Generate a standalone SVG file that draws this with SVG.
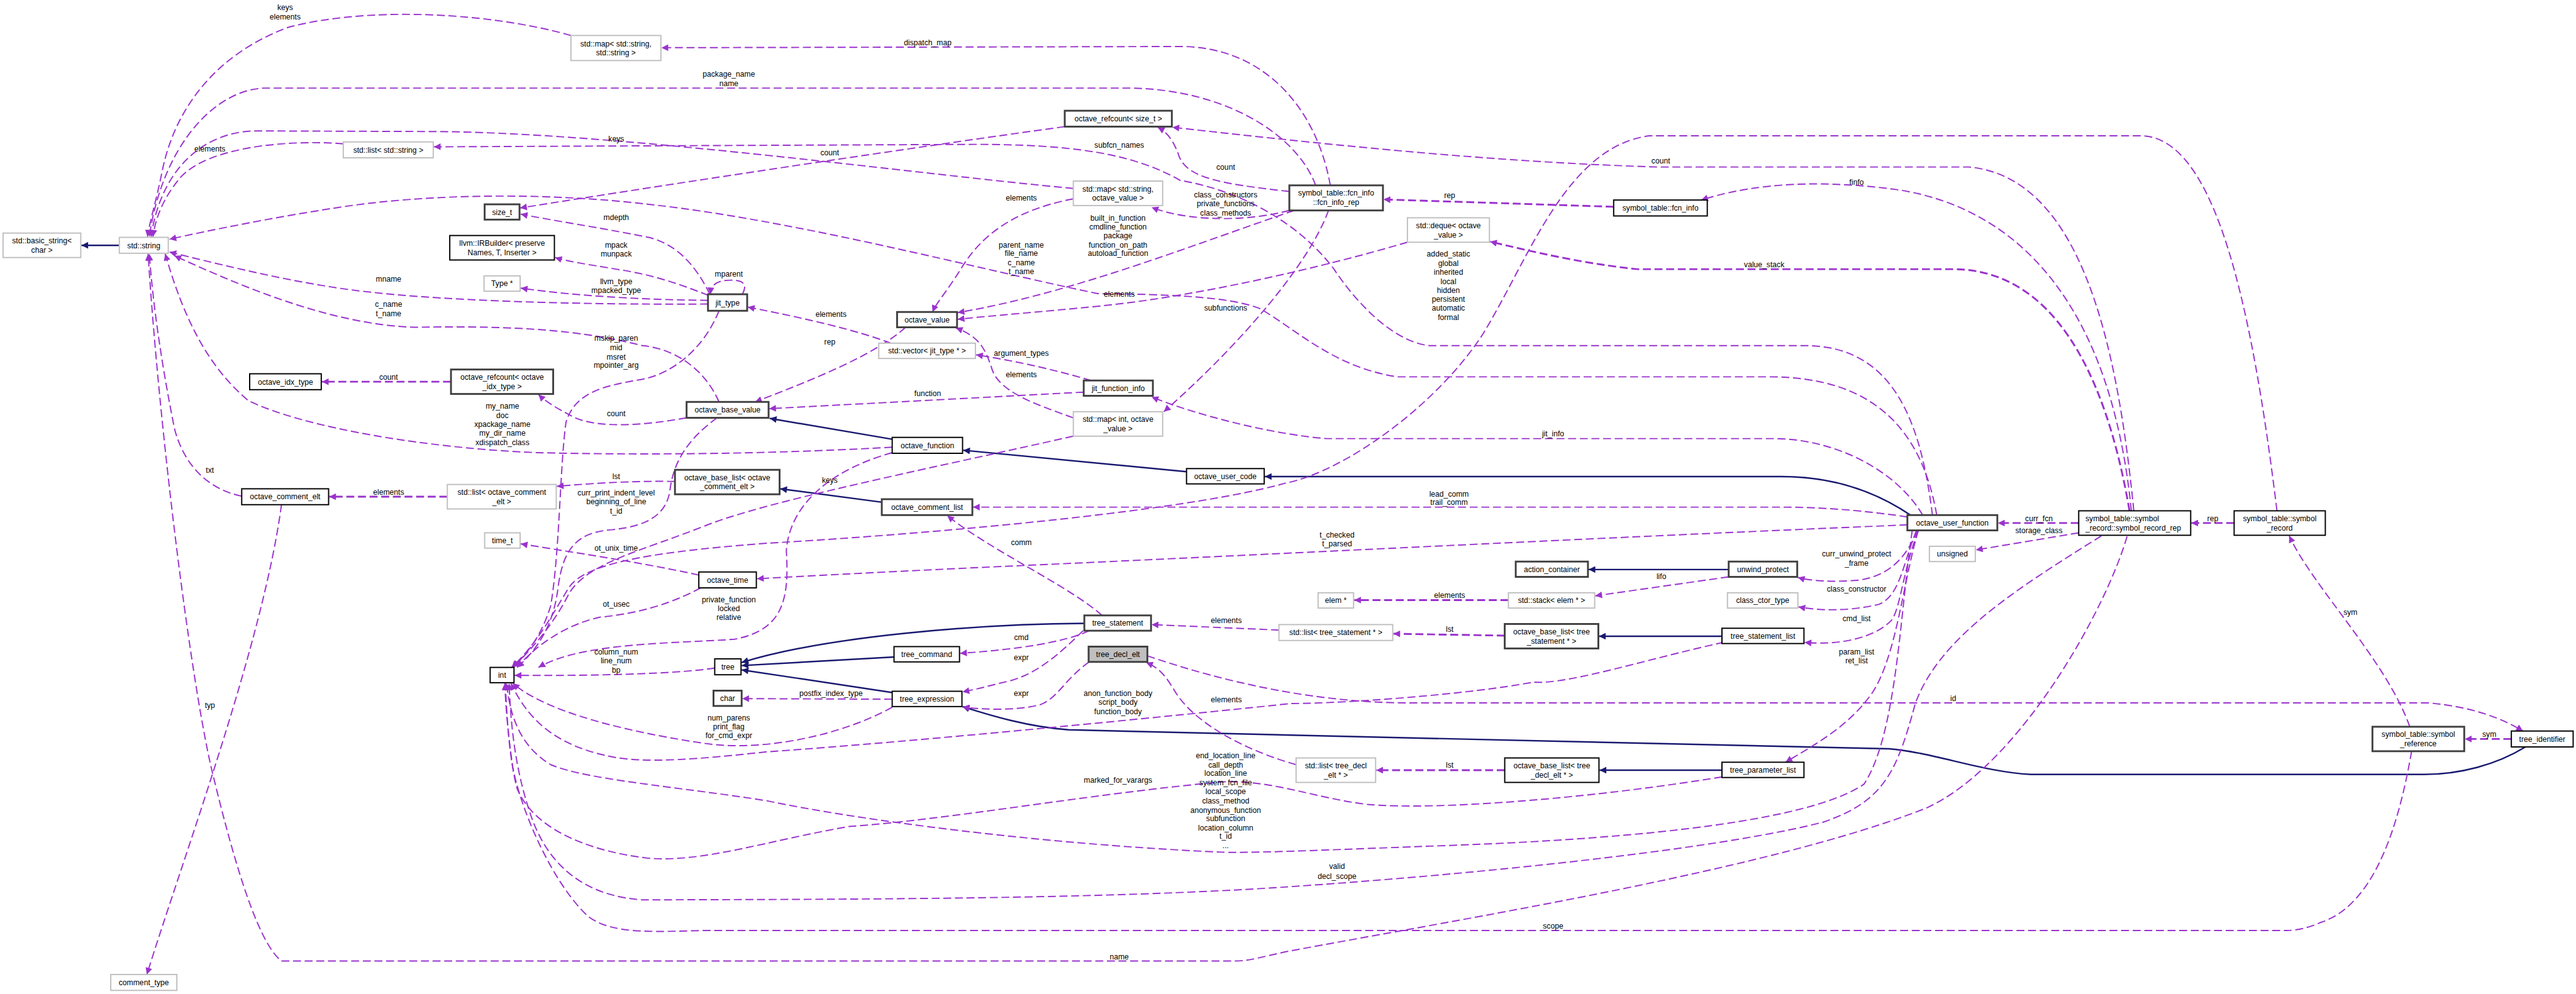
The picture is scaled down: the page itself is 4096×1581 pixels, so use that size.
<svg xmlns="http://www.w3.org/2000/svg" width="4096" height="1581" viewBox="0 0 4096 1581">
<defs>
<style>
.nd rect{fill:#fff}
.g rect{stroke:#bfbfbf;stroke-width:2}
.b rect{stroke:#000;stroke-width:2}
.d rect{stroke:#404040;stroke-width:3}
text{font-family:"Liberation Sans",Arial,sans-serif;font-size:12.5px;fill:#000;text-anchor:middle}
.e{fill:none;stroke:#9a32cd;stroke-width:2;stroke-dasharray:13,6;marker-end:url(#ap)}
.t{stroke-width:3}
.i{fill:none;stroke:#191970;stroke-width:2.5;marker-end:url(#an)}
</style>
<marker id="ap" viewBox="0 0 10 10" refX="10" refY="5" markerUnits="userSpaceOnUse" markerWidth="18" markerHeight="11" orient="auto"><path d="M0,0 L10,5 L0,10 z" fill="#9a32cd" stroke="none"/></marker>
<marker id="an" viewBox="0 0 10 10" refX="10" refY="5" markerUnits="userSpaceOnUse" markerWidth="18" markerHeight="11" orient="auto"><path d="M0,0 L10,5 L0,10 z" fill="#191970" stroke="none"/></marker>
</defs>
<rect width="4096" height="1581" fill="#fff"/>
<g transform="scale(0.973)">
<g id="edges">
<path class="i" d="M195,401 L133,401"/>
<path class="i" d="M1458,718 L1258,684"/>
<path class="i" d="M1939,771 L1574,736"/>
<path class="i" d="M3122,842 C3060,800 2990,779 2911,779 L2067,779"/>
<path class="i" d="M1442,821 L1275,799"/>
<path class="i" d="M1772,1019 C1600,1020 1350,1040 1212,1083"/>
<path class="i" d="M1461,1074 L1212,1088"/>
<path class="i" d="M1458,1132 L1212,1095"/>
<path class="i" d="M2825,931 L2596,931"/>
<path class="i" d="M2814,1040 L2613,1040"/>
<path class="i" d="M2814,1259 L2614,1259"/>
<path class="i" d="M4127,1221 C4080,1250 4020,1266 3961,1266 L3319,1266 C3240,1262 3160,1230 3087,1224 C2800,1218 2200,1204 1746,1193 C1680,1188 1620,1170 1573,1155"/>

<path class="e" d="M933,58 C800,20 600,10 470,45 C350,90 285,180 265,280 C255,330 245,360 241,387"/>
<path class="e" d="M2174,303 C2150,170 2060,76 1929,76 L1081,78"/>
<path class="e" d="M2150,303 C2120,220 2000,144 1841,144 L433,144 C350,146 265,240 244,387"/>
<path class="e" d="M1754,308 C1500,285 1000,215 700,215 L420,214 C330,214 262,280 247,387"/>
<path class="e" d="M561,235 C470,228 340,240 295,290 C268,322 254,355 250,387"/>
<path class="e" d="M3158,842 C3140,700 3100,565 2950,565 L2337,565 C2280,560 2220,500 2180,440 C2120,360 2020,310 1929,295 C1850,250 1750,236 1591,236 L709,240"/>
<path class="e" d="M3165,842 C3140,700 3060,616 2891,616 L2283,616 C2180,600 2120,540 2060,505 C2010,484 1900,481 1794,480 C1600,440 1300,360 1060,334 C900,315 700,315 541,341 C450,355 350,375 277,391"/>
<path class="e" d="M1740,207 C1500,240 1100,300 850,340"/>
<path class="e" d="M2107,344 C2050,360 1950,365 1882,339"/>
<path class="e" d="M2115,344 C1950,400 1750,480 1565,511"/>
<path class="e" d="M2107,313 C1990,300 1935,290 1925,250 C1915,225 1905,215 1892,208"/>
<path class="e" d="M3487,835 C3460,560 3400,290 3218,273 L2708,273 C2450,265 2200,240 1916,208"/>
<path class="e" d="M3483,835 C3450,500 3300,340 3100,310 C2950,290 2850,305 2780,327"/>
<path class="e t" d="M3480,835 C3440,600 3350,440 3191,440 L2675,440 C2580,430 2500,410 2435,395"/>
<path class="e t" d="M2637,338 L2261,326"/>
<path class="e" d="M3721,835 C3680,500 3620,222 3498,222 L2695,222 C2560,240 2500,420 2424,545 C2350,660 2200,770 2100,790 C1900,845 1400,880 1253,888 C1100,900 960,915 930,960 C905,1000 880,1050 836,1091"/>
<path class="e t" d="M3651,855 L3581,855"/>
<path class="e t" d="M3397,855 L3265,855"/>
<path class="e" d="M3397,871 L3229,899"/>
<path class="e" d="M3938,1188 C3900,1080 3780,960 3741,876"/>
<path class="e t" d="M4104,1208 L4028,1208"/>
<path class="e" d="M1875,1072 C2000,1115 2150,1149 2303,1149 L3968,1149 C4040,1155 4090,1175 4123,1195"/>
<path class="e" d="M2118,1250 C2030,1225 1950,1180 1920,1130 C1905,1105 1895,1092 1873,1083"/>
<path class="e t" d="M2459,1259 L2249,1259"/>
<path class="e" d="M3135,867 C3110,950 3100,1070 3060,1132 C3020,1190 2960,1220 2918,1246"/>
<path class="e" d="M3135,867 C3110,930 3105,1000 3090,1015 C3060,1045 3000,1055 2949,1050"/>
<path class="e" d="M3132,867 C3110,920 3105,975 3070,988 C3020,1000 2970,998 2939,992"/>
<path class="e" d="M3134,867 C3115,910 3090,940 3040,948 C3000,952 2960,950 2938,944"/>
<path class="e" d="M2825,943 L2607,974"/>
<path class="e t" d="M2465,981 L2213,981"/>
<path class="e t" d="M2459,1039 L2277,1036"/>
<path class="e" d="M2090,1030 L1882,1021"/>
<path class="e" d="M3117,845 C3050,835 2980,829 2911,829 L1590,829"/>
<path class="e" d="M3117,858 C2700,875 2100,905 1726,922 C1500,932 1350,940 1237,946"/>
<path class="e" d="M3142,842 C3100,770 3000,717 2898,717 L2168,717 C2080,710 1960,680 1882,649"/>
<path class="e" d="M3125,867 C3105,1000 3100,1200 3046,1282 C2960,1340 2700,1370 2370,1382 C2200,1388 2050,1395 1996,1393 C1700,1380 1400,1340 1253,1309 C1100,1285 960,1275 900,1250 C850,1220 833,1170 828,1117"/>
<path class="e" d="M3434,876 C3300,960 3170,1040 3130,1150 C3100,1260 3080,1310 2979,1344 C2800,1390 2400,1430 2100,1450 C1800,1470 1400,1470 1050,1471 C960,1465 900,1420 870,1340 C845,1270 835,1200 832,1117"/>
<path class="e" d="M3941,1228 C3920,1350 3880,1480 3792,1508 C3770,1518 3750,1521 3738,1521 L1158,1521 C1080,1522 1000,1530 960,1497 C900,1440 850,1320 838,1254 C830,1200 826,1150 825,1117"/>
<path class="e" d="M3476,877 C3440,1000 3300,1250 3150,1320 C2900,1420 2400,1500 2100,1556 C2060,1565 2040,1571 2017,1571 L460,1571 C420,1540 380,1400 345,1254 C310,1100 260,700 242,415"/>
<path class="e" d="M2814,1270 C2600,1305 2350,1325 2235,1315 C2150,1305 2080,1275 2000,1278 C1800,1295 1550,1340 1388,1351 C1250,1375 1150,1410 1060,1403 C950,1390 870,1350 845,1289 C832,1240 828,1170 826,1117"/>
<path class="e" d="M1458,1156 C1380,1200 1250,1230 1150,1215 C1050,1200 900,1170 838,1117"/>
<path class="e" d="M2817,1050 C2700,1075 2560,1120 2506,1115 C2400,1135 2200,1150 2110,1150 C1900,1172 1500,1212 1253,1229 C1150,1240 1050,1250 990,1235 C900,1215 860,1170 835,1117"/>
<path class="e" d="M1770,1031 C1740,1060 1700,1100 1650,1113 C1620,1120 1600,1126 1573,1131"/>
<path class="e" d="M1780,1082 C1740,1110 1730,1140 1700,1152 C1660,1162 1610,1160 1573,1156"/>
<path class="e" d="M1780,1031 C1740,1050 1660,1062 1569,1068"/>
<path class="e" d="M1801,1006 C1750,960 1620,900 1548,843"/>
<path class="e" d="M1458,1143 L1213,1142"/>
<path class="e" d="M1168,1092 C1120,1100 1000,1105 841,1104"/>
<path class="e" d="M1145,961 C1100,985 1050,1002 980,1009 C930,1020 880,1050 845,1091"/>
<path class="e" d="M1142,940 C1050,920 950,905 851,889"/>
<path class="e" d="M1122,683 C1050,696 980,700 940,683 C910,668 890,655 880,645"/>
<path class="e t" d="M737,624 L526,624"/>
<path class="e" d="M1103,787 C1040,786 980,789 910,795"/>
<path class="e t" d="M731,812 L538,812"/>
<path class="e" d="M460,825 C430,1050 300,1400 240,1593"/>
<path class="e" d="M395,811 C340,800 300,760 285,700 C265,600 250,500 244,415"/>
<path class="e" d="M1458,731 C1300,740 1100,745 879,740 C700,733 500,700 406,655 C340,600 300,520 270,415"/>
<path class="e" d="M1175,657 C1150,600 1100,570 1050,565 C950,540 850,532 676,535 C550,530 420,480 285,418"/>
<path class="e" d="M1157,497 C1000,498 700,495 541,469 C450,455 350,430 277,412"/>
<path class="e" d="M1157,491 C1060,490 950,485 851,471"/>
<path class="e" d="M1158,483 C1100,460 1060,448 1007,440 C960,432 930,428 907,421"/>
<path class="e" d="M1160,481 C1140,440 1110,400 1060,388 C980,372 900,360 851,350"/>
<path class="e" d="M1213,481 C1222,465 1215,458 1195,458 C1172,458 1162,465 1161,481"/>
<path class="e" d="M1175,508 C1150,570 1100,610 1050,620 C990,630 940,640 925,690 C915,760 915,900 900,990 C885,1040 860,1070 838,1091"/>
<path class="e" d="M1456,561 C1400,540 1320,521 1222,502"/>
<path class="e" d="M1783,622 C1726,605 1660,590 1595,580"/>
<path class="e" d="M1771,641 C1600,650 1450,658 1257,668"/>
<path class="e" d="M1480,535 C1430,580 1330,620 1234,657"/>
<path class="e" d="M1754,683 C1690,660 1630,640 1620,600 C1610,570 1600,550 1562,536"/>
<path class="e" d="M1754,325 C1650,345 1600,390 1570,440 C1545,480 1530,495 1524,510"/>
<path class="e" d="M2300,396 C2150,440 1950,485 1800,500 C1700,510 1620,516 1565,522"/>
<path class="e" d="M2171,344 C2140,430 2030,560 1902,673"/>
<path class="e" d="M1458,740 C1350,770 1290,830 1285,900 C1290,980 1280,1030 1200,1045 C1100,1052 950,1050 880,1091"/>
<path class="e" d="M1172,683 C1120,720 1100,760 1095,800 C1090,840 1060,860 1000,866 C940,870 920,900 912,960 C905,1020 880,1060 845,1091"/>
<path class="e" d="M1754,713 C1500,770 1250,820 1151,860 C1050,900 960,920 930,970 C905,1020 870,1060 838,1091"/>
</g>
<g id="labels">
<text x="466" y="16.5">keys</text><text x="466" y="31.5">elements</text>
<text x="1516" y="73.5">dispatch_map</text>
<text x="1191" y="125.5">package_name</text><text x="1191" y="140.5">name</text>
<text x="1007" y="231.5">keys</text>
<text x="343" y="247.5">elements</text>
<text x="1829" y="241.5">subfcn_names</text>
<text x="1356" y="253.5">count</text>
<text x="2003" y="277.5">count</text>
<text x="2714" y="267.5">count</text>
<text x="3034" y="302.5">finfo</text>
<text x="2369" y="323.5">rep</text>
<text x="1669" y="327.5">elements</text>
<text x="2003" y="322.5">class_constructors</text><text x="2003" y="337.5">private_functions</text><text x="2003" y="352.5">class_methods</text>
<text x="1007" y="359.5">mdepth</text>
<text x="1827" y="360.5">built_in_function</text><text x="1827" y="375.5">cmdline_function</text><text x="1827" y="389.5">package</text><text x="1827" y="404.5">function_on_path</text><text x="1827" y="418.5">autoload_function</text>
<text x="1007" y="404.5">mpack</text><text x="1007" y="419.5">munpack</text>
<text x="1669" y="404.5">parent_name</text><text x="1669" y="418.5">file_name</text><text x="1669" y="433.5">c_name</text><text x="1669" y="448.5">t_name</text>
<text x="2367" y="419.5">added_static</text><text x="2367" y="434.5">global</text><text x="2367" y="449.5">inherited</text><text x="2367" y="464.5">local</text><text x="2367" y="478.5">hidden</text><text x="2367" y="493.5">persistent</text><text x="2367" y="507.5">automatic</text><text x="2367" y="523.5">formal</text>
<text x="2883" y="436.5">value_stack</text>
<text x="1191" y="452.5">mparent</text>
<text x="635" y="460.5">mname</text>
<text x="1007" y="464.5">llvm_type</text><text x="1007" y="478.5">mpacked_type</text>
<text x="1829" y="485.5">elements</text>
<text x="635" y="501.5">c_name</text><text x="635" y="516.5">t_name</text>
<text x="2003" y="507.5">subfunctions</text>
<text x="1358" y="517.5">elements</text>
<text x="1007" y="557.5">mskip_paren</text><text x="1007" y="572.5">mid</text><text x="1007" y="587.5">msret</text><text x="1007" y="601.5">mpointer_arg</text>
<text x="1356" y="563.5">rep</text>
<text x="1669" y="581.5">argument_types</text>
<text x="1669" y="616.5">elements</text>
<text x="635" y="620.5">count</text>
<text x="1516" y="647.5">function</text>
<text x="821" y="668.5">my_name</text><text x="821" y="683.5">doc</text><text x="821" y="697.5">xpackage_name</text><text x="821" y="712.5">my_dir_name</text><text x="821" y="727.5">xdispatch_class</text>
<text x="1007" y="680.5">count</text>
<text x="2538" y="713.5">jit_info</text>
<text x="343" y="772.5">txt</text>
<text x="1007" y="783.5">lst</text>
<text x="1356" y="789.5">keys</text>
<text x="635" y="808.5">elements</text>
<text x="1007" y="809.5">curr_print_indent_level</text><text x="1007" y="824.5">beginning_of_line</text><text x="1007" y="839.5">t_id</text>
<text x="2368" y="811.5">lead_comm</text><text x="2368" y="825.5">trail_comm</text>
<text x="3332" y="851.5">curr_fcn</text>
<text x="3616" y="851.5">rep</text>
<text x="3332" y="871.5">storage_class</text>
<text x="2185" y="878.5">t_checked</text><text x="2185" y="893.5">t_parsed</text>
<text x="1669" y="891.5">comm</text>
<text x="1007" y="900.5">ot_unix_time</text>
<text x="3034" y="909.5">curr_unwind_protect</text><text x="3034" y="924.5">_frame</text>
<text x="2715" y="946.5">lifo</text>
<text x="3034" y="967.5">class_constructor</text>
<text x="2369" y="977.5">elements</text>
<text x="1191" y="984.5">private_function</text><text x="1191" y="998.5">locked</text><text x="1191" y="1013.5">relative</text>
<text x="1007" y="991.5">ot_usec</text>
<text x="3841" y="1005.5">sym</text>
<text x="3034" y="1015.5">cmd_list</text>
<text x="2004" y="1018.5">elements</text>
<text x="2369" y="1032.5">lst</text>
<text x="1669" y="1046.5">cmd</text>
<text x="1007" y="1069.5">column_num</text><text x="1007" y="1084.5">line_num</text><text x="1007" y="1099.5">bp</text>
<text x="3034" y="1069.5">param_list</text><text x="3034" y="1084.5">ret_list</text>
<text x="1669" y="1079.5">expr</text>
<text x="1669" y="1137.5">expr</text>
<text x="1358" y="1137.5">postfix_index_type</text>
<text x="1827" y="1137.5">anon_function_body</text><text x="1827" y="1152.5">script_body</text><text x="1827" y="1167.5">function_body</text>
<text x="2004" y="1147.5">elements</text>
<text x="3192" y="1145.5">id</text>
<text x="343" y="1157.5">typ</text>
<text x="1191" y="1177.5">num_parens</text><text x="1191" y="1192.5">print_flag</text><text x="1191" y="1206.5">for_cmd_expr</text>
<text x="4068" y="1204.5">sym</text>
<text x="2003" y="1239.5">end_location_line</text><text x="2003" y="1254.5">call_depth</text><text x="2003" y="1268.5">location_line</text><text x="2003" y="1283.5">system_fcn_file</text><text x="2003" y="1298.5">local_scope</text><text x="2003" y="1313.5">class_method</text><text x="2003" y="1328.5">anonymous_function</text><text x="2003" y="1342.5">subfunction</text><text x="2003" y="1357.5">location_column</text><text x="2003" y="1371.5">t_id</text><text x="2003" y="1386.5">...</text>
<text x="2369" y="1254.5">lst</text>
<text x="1827" y="1279.5">marked_for_varargs</text>
<text x="2185" y="1420.5">valid</text><text x="2185" y="1436.5">decl_scope</text>
<text x="2538" y="1517.5">scope</text>
<text x="1829" y="1568.5">name</text>
</g>
<g id="n1" class="nd g"><rect x="5" y="381" width="127" height="40"/><text x="68.5" y="398">std::basic_string&lt;</text><text x="68.5" y="413">char &gt;</text></g>
<g id="n2" class="nd g"><rect x="195" y="388" width="80" height="26"/><text x="235" y="405.5">std::string</text></g>
<g id="n3" class="nd g"><rect x="933" y="58" width="147" height="41"/><text x="1006.5" y="75.6">std::map&lt; std::string,</text><text x="1006.5" y="90.4">std::string &gt;</text></g>
<g id="n4" class="nd g"><rect x="561" y="232" width="147" height="26"/><text x="634.5" y="249.5">std::list&lt; std::string &gt;</text></g>
<g id="n5" class="nd d"><rect x="792" y="334" width="57" height="25"/><text x="820.5" y="351">size_t</text></g>
<g id="n6" class="nd b"><rect x="735" y="385" width="171" height="40"/><text x="820.5" y="402">llvm::IRBuilder&lt; preserve</text><text x="820.5" y="417">Names, T, Inserter &gt;</text></g>
<g id="n7" class="nd g"><rect x="791" y="451" width="59" height="25"/><text x="820.5" y="468">Type *</text></g>
<g id="n8" class="nd b"><rect x="408" y="611" width="117" height="26"/><text x="466.5" y="628.5">octave_idx_type</text></g>
<g id="n9" class="nd d"><rect x="737" y="604" width="167" height="40"/><text x="820.5" y="621">octave_refcount&lt; octave</text><text x="820.5" y="636">_idx_type &gt;</text></g>
<g id="n10" class="nd b"><rect x="395" y="799" width="142" height="26"/><text x="466" y="816.5">octave_comment_elt</text></g>
<g id="n11" class="nd g"><rect x="731" y="792" width="178" height="40"/><text x="820" y="809">std::list&lt; octave_comment</text><text x="820" y="824">_elt &gt;</text></g>
<g id="n12" class="nd g"><rect x="792" y="871" width="58" height="25"/><text x="821" y="888">time_t</text></g>
<g id="n13" class="nd b"><rect x="801" y="1091" width="39" height="25"/><text x="820.5" y="1108">int</text></g>
<g id="n14" class="nd g"><rect x="181" y="1593" width="108" height="26"/><text x="235" y="1610.5">comment_type</text></g>
<g id="n15" class="nd d"><rect x="1740" y="181" width="175" height="26"/><text x="1827.5" y="198.5">octave_refcount&lt; size_t &gt;</text></g>
<g id="n16" class="nd g"><rect x="1754" y="296" width="146" height="40"/><text x="1827" y="313">std::map&lt; std::string,</text><text x="1827" y="328">octave_value &gt;</text></g>
<g id="n17" class="nd d"><rect x="1157" y="481" width="64" height="27"/><text x="1189" y="499">jit_type</text></g>
<g id="n18" class="nd d"><rect x="1466" y="510" width="98" height="25"/><text x="1515" y="527">octave_value</text></g>
<g id="n19" class="nd g"><rect x="1436" y="561" width="158" height="25"/><text x="1515" y="578">std::vector&lt; jit_type * &gt;</text></g>
<g id="n20" class="nd d"><rect x="1771" y="622" width="113" height="25"/><text x="1827.5" y="639">jit_function_info</text></g>
<g id="n21" class="nd d"><rect x="1122" y="657" width="134" height="26"/><text x="1189" y="674.5">octave_base_value</text></g>
<g id="n22" class="nd g"><rect x="1754" y="673" width="146" height="40"/><text x="1827" y="690">std::map&lt; int, octave</text><text x="1827" y="705">_value &gt;</text></g>
<g id="n23" class="nd b"><rect x="1458" y="715" width="115" height="26"/><text x="1515.5" y="732.5">octave_function</text></g>
<g id="n24" class="nd b"><rect x="1939" y="766" width="127" height="25"/><text x="2002.5" y="783">octave_user_code</text></g>
<g id="n25" class="nd d"><rect x="1103" y="768" width="171" height="40"/><text x="1188.5" y="785">octave_base_list&lt; octave</text><text x="1188.5" y="800">_comment_elt &gt;</text></g>
<g id="n26" class="nd d"><rect x="1441" y="816" width="148" height="26"/><text x="1515" y="833.5">octave_comment_list</text></g>
<g id="n27" class="nd b"><rect x="1142" y="935" width="94" height="26"/><text x="1189" y="952.5">octave_time</text></g>
<g id="n28" class="nd d"><rect x="1772" y="1006" width="109" height="25"/><text x="1826.5" y="1023">tree_statement</text></g>
<g id="n29" class="nd b"><rect x="1461" y="1057" width="107" height="25"/><text x="1514.5" y="1074">tree_command</text></g>
<g id="n30" class="d"><rect x="1779" y="1057" width="96" height="25" fill="#bfbfbf"/><text x="1827" y="1074">tree_decl_elt</text></g>
<g id="n31" class="nd b"><rect x="1168" y="1077" width="43" height="26"/><text x="1189.5" y="1094.5">tree</text></g>
<g id="n32" class="nd d"><rect x="1166" y="1129" width="46" height="25"/><text x="1189" y="1146">char</text></g>
<g id="n33" class="nd b"><rect x="1458" y="1130" width="114" height="25"/><text x="1515" y="1147">tree_expression</text></g>
<g id="n34" class="nd d"><rect x="2107" y="303" width="153" height="41"/><text x="2183.5" y="320">symbol_table::fcn_info</text><text x="2183.5" y="335">::fcn_info_rep</text></g>
<g id="n35" class="nd b"><rect x="2637" y="327" width="153" height="26"/><text x="2713.5" y="344.5">symbol_table::fcn_info</text></g>
<g id="n36" class="nd g"><rect x="2300" y="356" width="134" height="40"/><text x="2367" y="373">std::deque&lt; octave</text><text x="2367" y="388">_value &gt;</text></g>
<g id="n37" class="nd d"><rect x="3117" y="842" width="147" height="25"/><text x="3190.5" y="859">octave_user_function</text></g>
<g id="n38" class="nd d"><rect x="2477" y="918" width="118" height="25"/><text x="2536" y="935">action_container</text></g>
<g id="n39" class="nd d"><rect x="2825" y="918" width="112" height="25"/><text x="2881" y="935">unwind_protect</text></g>
<g id="n40" class="nd g"><rect x="2154" y="969" width="58" height="25"/><text x="2183" y="986">elem *</text></g>
<g id="n41" class="nd g"><rect x="2465" y="969" width="141" height="25"/><text x="2535.5" y="986">std::stack&lt; elem * &gt;</text></g>
<g id="n42" class="nd g"><rect x="2823" y="969" width="115" height="25"/><text x="2880.5" y="986">class_ctor_type</text></g>
<g id="n43" class="nd g"><rect x="2090" y="1021" width="186" height="26"/><text x="2183" y="1038.5">std::list&lt; tree_statement * &gt;</text></g>
<g id="n44" class="nd d"><rect x="2459" y="1020" width="153" height="40"/><text x="2535.5" y="1037">octave_base_list&lt; tree</text><text x="2535.5" y="1052">_statement * &gt;</text></g>
<g id="n45" class="nd b"><rect x="2814" y="1027" width="134" height="25"/><text x="2881" y="1044">tree_statement_list</text></g>
<g id="n46" class="nd b"><rect x="3397" y="835" width="183" height="40"/><text x="3408" y="852" style="text-anchor:start">symbol_table::symbol</text><text x="3408" y="867" style="text-anchor:start">_record::symbol_record_rep</text></g>
<g id="n47" class="nd b"><rect x="3651" y="835" width="149" height="40"/><text x="3725.5" y="852">symbol_table::symbol</text><text x="3725.5" y="867">_record</text></g>
<g id="n48" class="nd g"><rect x="3153" y="893" width="75" height="25"/><text x="3190.5" y="910">unsigned</text></g>
<g id="n49" class="nd g"><rect x="2118" y="1239" width="130" height="40"/><text x="2183" y="1256">std::list&lt; tree_decl</text><text x="2183" y="1271">_elt * &gt;</text></g>
<g id="n50" class="nd b"><rect x="2459" y="1239" width="154" height="40"/><text x="2536" y="1256">octave_base_list&lt; tree</text><text x="2536" y="1271">_decl_elt * &gt;</text></g>
<g id="n51" class="nd b"><rect x="2814" y="1246" width="134" height="25"/><text x="2881" y="1263">tree_parameter_list</text></g>
<g id="n52" class="nd d"><rect x="3877" y="1188" width="150" height="40"/><text x="3952" y="1205">symbol_table::symbol</text><text x="3952" y="1220">_reference</text></g>
<g id="n53" class="nd b"><rect x="4104" y="1195" width="101" height="26"/><text x="4154.5" y="1212.5">tree_identifier</text></g>
</g>
</svg>
